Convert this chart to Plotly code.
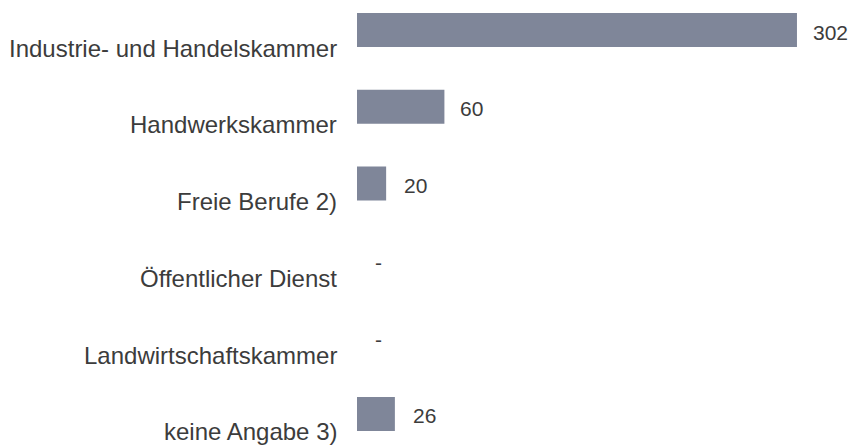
import plotly.graph_objects as go

categories = ["Industrie- und Handelskammer", "Handwerkskammer", "Freie Berufe 2)",
              "Öffentlicher Dienst", "Landwirtschaftskammer", "keine Angabe 3)"]
values = [302, 60, 20, 0, 0, 26]
value_labels = ["302", "60", "20", "-", "-", "26"]

BAR_COLOR = "#7f8699"
TEXT_COLOR = "#3c3c3c"
FONT = "Liberation Sans, Arial, sans-serif"

fig = go.Figure(go.Bar(
    y=categories, x=values, orientation="h",
    marker=dict(color=BAR_COLOR, line=dict(width=0)),
    hoverinfo="skip",
))

annotations = []
for cat, v, lab in zip(categories, values, value_labels):
    annotations.append(dict(
        x=0, xref="paper", y=cat, yref="y", text=cat, showarrow=False,
        xanchor="right", yanchor="middle", xshift=-18, yshift=-18,
        font=dict(family=FONT, size=24, color=TEXT_COLOR),
    ))
    annotations.append(dict(
        x=v, xref="x", y=cat, yref="y", text=lab, showarrow=False,
        xanchor="left", yanchor="middle", xshift=14 if v > 50 else 16, yshift=-2,
        font=dict(family=FONT, size=21, color=TEXT_COLOR),
    ))

fig.update_layout(
    width=850, height=445,
    margin=dict(l=357, r=0, t=0, b=0),
    paper_bgcolor="white", plot_bgcolor="white",
    bargap=0.557,
    showlegend=False,
    xaxis=dict(range=[0, 338.4], visible=False, fixedrange=True),
    yaxis=dict(range=[5.404, -0.3906], showticklabels=False, showgrid=False,
               zeroline=False, showline=False, ticks="", fixedrange=True),
    annotations=annotations,
)

fig.write_html(
    "out.html",
    config={"displayModeBar": False},
    post_script="document.body.style.margin='0';document.body.style.overflow='hidden';",
)
